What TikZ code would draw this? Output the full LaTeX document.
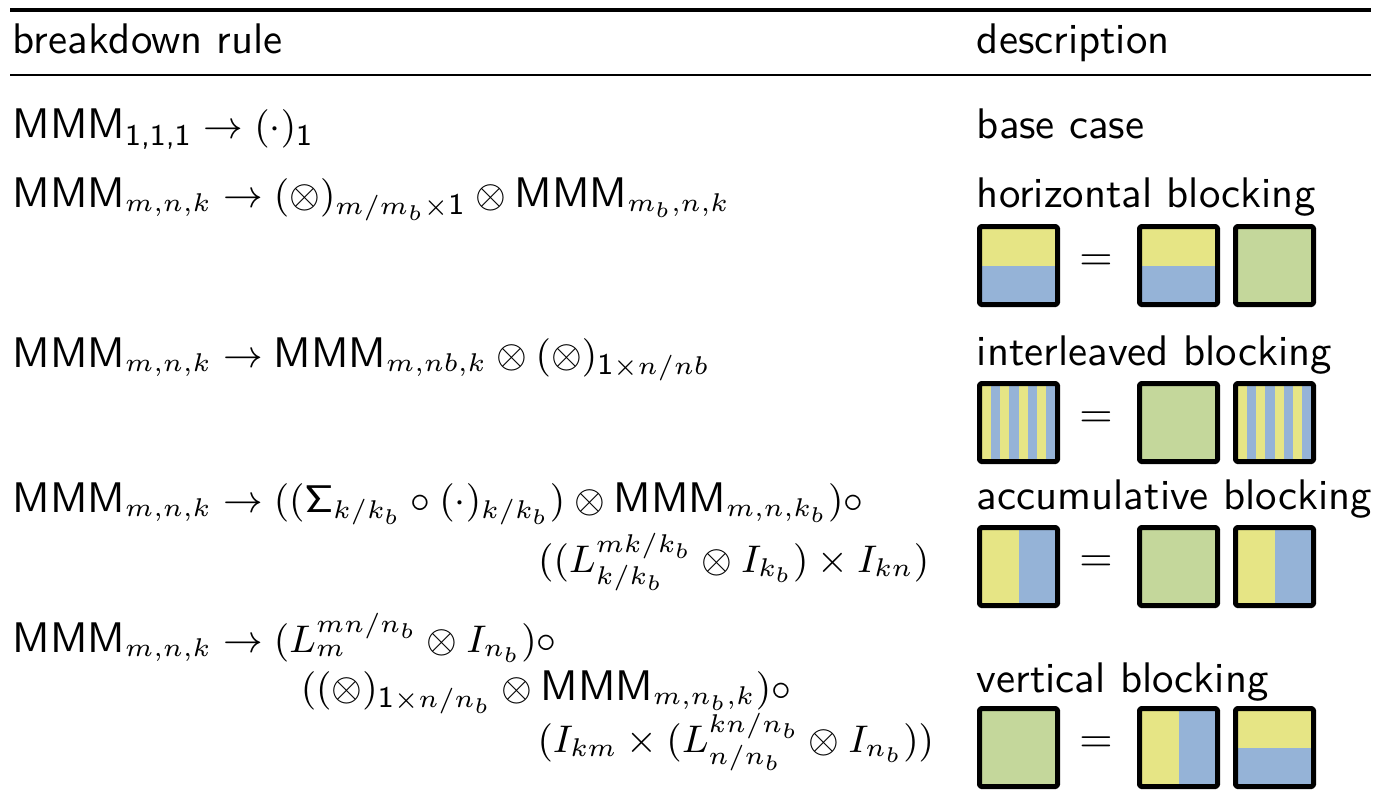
\documentclass[tikz,border=0pt]{standalone}
\definecolor{blkyellow}{RGB}{230,229,133}
\definecolor{blkblue}{RGB}{149,179,215}
\definecolor{blkgreen}{RGB}{196,215,155}
% math of the rules is set a little smaller than the text, with compact indices
\DeclareMathSizes{8.7}{8.7}{5.7}{4.5}
\newcommand\mathsz{\fontsize{8.7pt}{10pt}\selectfont}
% operator name set in the text sans font, at text size
\newcommand\opMMM{\mbox{\fontsize{10pt}{12pt}\selectfont\sffamily MMM}}
% sans digits in indices
\newcommand\sdig[1]{\mbox{\fontsize{7pt}{8pt}\selectfont\sffamily #1}}
\begin{document}
\begin{tikzpicture}[x=0.2336pt,y=-0.2336pt,
  txt/.style={anchor=base west,inner sep=0pt,font=\sffamily},
  rule/.style={anchor=base west,inner sep=0pt,font=\mathsz\sffamily},
  ruler/.style={anchor=base east,inner sep=0pt,font=\mathsz\sffamily},
  eqsign/.style={inner sep=0pt,font=\sffamily},
  tileframe/.style={draw=black,line width=1.17pt,rounded corners=0.4pt,line join=round},
  pics/tilegreen/.style={code={
    \fill[blkgreen] (0,0) rectangle (78,78);
    \draw[tileframe] (0,0) rectangle (78,78);}},
  pics/tilehsplit/.style={code={
    \fill[blkyellow] (0,0) rectangle (78,39);
    \fill[blkblue] (0,39) rectangle (78,78);
    \draw[tileframe] (0,0) rectangle (78,78);}},
  pics/tilevsplit/.style={code={
    \fill[blkyellow] (0,0) rectangle (39,78);
    \fill[blkblue] (39,0) rectangle (78,78);
    \draw[tileframe] (0,0) rectangle (78,78);}},
  pics/tilestripes/.style={code={
    \foreach \i in {0,...,7}{
      \pgfmathsetmacro{\xa}{2.5+9.125*\i}
      \pgfmathsetmacro{\xb}{\xa+9.125}
      \pgfmathparse{mod(\i,2)==0 ? "blkyellow" : "blkblue"}
      \fill[\pgfmathresult] (\xa,0) rectangle (\xb,78);}
    \draw[tileframe] (0,0) rectangle (78,78);}}
]
\useasboundingbox (0,0) rectangle (1373,796);

% rules of the table
\draw[line width=0.85pt] (10,10) -- (1371,10);
\draw[line width=0.5pt] (10,75) -- (1371,75);

% header
\node[txt] (hrule) at (12,53) {breakdown rule};
\node[txt] (hdesc) at (976,53) {description};

% row 1: base case
\node[rule] (r1) at (12,138) {$\opMMM_{\sdig{1,1,1}}\rightarrow(\cdot)_{\sdig{1}}$};
\node[txt] (d1) at (976,138) {base case};

% row 2: horizontal blocking
\node[rule] (r2) at (12,207) {$\opMMM_{m,n,k}\rightarrow(\otimes)_{m/m_b\times\sdig{1}}\otimes\opMMM_{m_b,n,k}$};
\node[txt] (d2) at (976,207) {horizontal blocking};
\pic at (979.5,226.5) {tilehsplit};
\node[eqsign] (e2) at (1096,263) {$=$};
\pic at (1139.5,226.5) {tilehsplit};
\pic at (1235.5,226.5) {tilegreen};

% row 3: interleaved blocking
\node[rule] (r3) at (12,367) {$\opMMM_{m,n,k}\rightarrow\opMMM_{m,nb,k}\otimes(\otimes)_{\sdig{1}\times n/nb}$};
\node[txt] (d3) at (976,365) {interleaved blocking};
\pic at (979.5,383.5) {tilestripes};
\node[eqsign] (e3) at (1096,420) {$=$};
\pic at (1139.5,383.5) {tilegreen};
\pic at (1235.5,383.5) {tilestripes};

% row 4: accumulative blocking
\node[rule] (r4a) at (12,512) {$\opMMM_{m,n,k}\rightarrow((\mathsf{\Sigma}_{k/k_b}\circ(\cdot)_{k/k_b})\otimes\opMMM_{m,n,k_b})\circ$};
\node[ruler] (r4b) at (930,572) {$((L^{mk/k_b}_{k/k_b}\otimes I_{k_b})\times I_{kn})$};
\node[txt] (d4) at (976,509) {accumulative blocking};
\pic at (979.5,527.5) {tilevsplit};
\node[eqsign] (e4) at (1096,564) {$=$};
\pic at (1139.5,527.5) {tilegreen};
\pic at (1235.5,527.5) {tilevsplit};

% row 5: vertical blocking
\node[rule] (r5a) at (12,652) {$\opMMM_{m,n,k}\rightarrow(L^{mn/n_b}_{m}\otimes I_{n_b})\circ$};
\node[rule] (r5b) at (300,700) {$((\otimes)_{\sdig{1}\times n/n_b}\otimes\opMMM_{m,n_b,k})\circ$};
\node[ruler] (r5c) at (935,752) {$(I_{km}\times(L^{kn/n_b}_{n/n_b}\otimes I_{n_b}))$};
\node[txt] (d5) at (976,692) {vertical blocking};
\pic at (979.5,708.5) {tilegreen};
\node[eqsign] (e5) at (1096,745) {$=$};
\pic at (1139.5,708.5) {tilevsplit};
\pic at (1235.5,708.5) {tilehsplit};
\end{tikzpicture}
\end{document}
